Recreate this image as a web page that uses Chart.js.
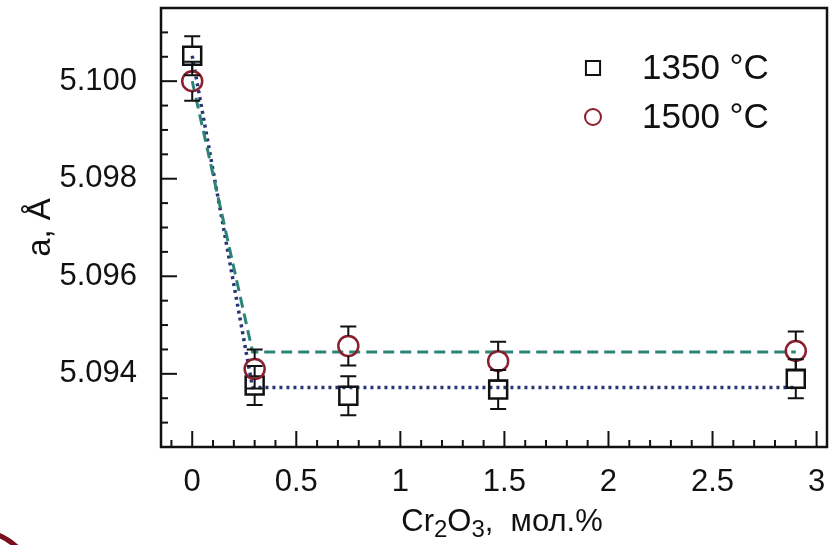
<!DOCTYPE html>
<html>
<head>
<meta charset="utf-8">
<script src="https://cdn.jsdelivr.net/npm/chart.js@4.4.0/dist/chart.umd.min.js"></script>
<style>
  html, body { margin: 0; padding: 0; background: #fff; }
  #wrap { width: 836px; height: 545px; }
</style>
</head>
<body>
<div id="wrap"><canvas id="latticeChart"></canvas></div>
<script>
// Cr2O3 content, mol.%
const cr2o3 = [0, 0.3, 0.75, 1.47, 2.9];
// lattice parameter a, Angstrom
const a1350 = [5.10052, 5.09376, 5.09355, 5.09368, 5.0939];
const a1500 = [5.1000, 5.0941, 5.09457, 5.09426, 5.09447];
const err1350 = [0.0004, 0.0004, 0.0004, 0.0004, 0.0004];
const err1500 = [0.0004, 0.0004, 0.0004, 0.0004, 0.0004];
// guide lines
const fitX = [0, 0.29, 2.9];
const fit1350 = [5.10052, 5.09372, 5.09372];
const fit1500 = [5.1000, 5.09445, 5.09445];
// axis ticks
const xTicks = [0, 0.5, 1, 1.5, 2, 2.5, 3];
const yTicks = [5.094, 5.096, 5.098, 5.100];
const seriesLabels = ['1350 °C', '1500 °C'];

const FONT = 'Liberation Sans, Arial, Helvetica, sans-serif';
const pts = (xs, ys) => xs.map((x, i) => ({ x: x, y: ys[i] }));

// inward tick marks + full frame
const framePlugin = {
    id: 'frame',
    afterDraw(chart) {
        const { ctx, chartArea: a, scales: { x, y } } = chart;
        ctx.save();
        ctx.strokeStyle = '#111';
        ctx.lineWidth = 2;
        for (let i = -1; i <= 30; i++) {
            const px = x.getPixelForValue(i / 10);
            const len = (i % 5 === 0) ? 16 : 7;
            ctx.beginPath();
            ctx.moveTo(px, a.bottom);
            ctx.lineTo(px, a.bottom - len);
            ctx.stroke();
        }
        for (let i = 0; i <= 16; i++) {
            const py = y.getPixelForValue(5.093 + i * 0.0005);
            const len = (i % 4 === 2) ? 16 : 7;
            ctx.beginPath();
            ctx.moveTo(a.left, py);
            ctx.lineTo(a.left + len, py);
            ctx.stroke();
        }
        ctx.lineWidth = 2.5;
        ctx.strokeRect(a.left, a.top, a.right - a.left, a.bottom - a.top);

        // bit of slide decoration in the corner
        ctx.strokeStyle = '#7a0f1c';
        ctx.lineWidth = 5;
        ctx.beginPath();
        ctx.moveTo(-2, 535);
        ctx.quadraticCurveTo(8, 539, 18, 548);
        ctx.stroke();
        ctx.restore();
    }
};

// error bars, drawn from marker edge to cap
const errorBarPlugin = {
    id: 'errorBars',
    afterDatasetsDraw(chart) {
        const { ctx, scales: { x, y } } = chart;
        const sets = [[a1350, err1350, 9], [a1500, err1500, 10]];
        ctx.save();
        ctx.strokeStyle = '#111';
        ctx.lineWidth = 2;
        sets.forEach(([vals, errs, half]) => {
            cr2o3.forEach((cx, i) => {
                const px = x.getPixelForValue(cx);
                const pc = y.getPixelForValue(vals[i]);
                const pt = y.getPixelForValue(vals[i] + errs[i]);
                const pb = y.getPixelForValue(vals[i] - errs[i]);
                ctx.beginPath();
                ctx.moveTo(px, pc - half); ctx.lineTo(px, pt);
                ctx.moveTo(px, pc + half); ctx.lineTo(px, pb);
                ctx.moveTo(px - 8, pt); ctx.lineTo(px + 8, pt);
                ctx.moveTo(px - 8, pb); ctx.lineTo(px + 8, pb);
                ctx.stroke();
            });
        });
        ctx.restore();
    }
};

// legend inside the plot and the x title with subscripts
const textPlugin = {
    id: 'texts',
    afterDraw(chart) {
        const { ctx } = chart;
        ctx.save();
        ctx.textBaseline = 'middle';
        const rows = [[68, 0, 10], [117, 1, 8]];
        rows.forEach(([py, di, r]) => {
            const ds = chart.data.datasets[di];
            ctx.fillStyle = 'rgba(0,0,0,0)';
            ctx.strokeStyle = ds.borderColor;
            ctx.lineWidth = 2;
            Chart.helpers.drawPoint(ctx, { pointStyle: ds.pointStyle, radius: r, borderWidth: 2 }, 593, py);
            ctx.fillStyle = '#111';
            ctx.font = '35px ' + FONT;
            ctx.fillText(seriesLabels[di], 642, py + 1);
        });

        // x title: Cr2O3, мол.%
        const parts = [['Cr', 31, 0], ['2', 24, 6], ['O', 31, 0], ['3', 24, 6], [',  мол.%', 31, 0]];
        let w = 0;
        parts.forEach(([t, s]) => { ctx.font = s + 'px ' + FONT; w += ctx.measureText(t).width; });
        let px = 502 - w / 2;
        ctx.textBaseline = 'alphabetic';
        parts.forEach(([t, s, dy]) => {
            ctx.font = s + 'px ' + FONT;
            ctx.fillText(t, px, 531 + dy);
            px += ctx.measureText(t).width;
        });
        ctx.restore();
    }
};

new Chart(document.getElementById('latticeChart'), {
    type: 'scatter',
    data: {
        datasets: [
            {
                label: seriesLabels[0],
                data: pts(cr2o3, a1350),
                pointStyle: 'rect',
                pointRadius: 12.7,
                borderColor: '#111',
                backgroundColor: 'rgba(0,0,0,0)',
                borderWidth: 2.5,
                order: 1
            },
            {
                label: seriesLabels[1],
                data: pts(cr2o3, a1500),
                pointStyle: 'circle',
                pointRadius: 10,
                borderColor: '#8c1f2e',
                backgroundColor: 'rgba(0,0,0,0)',
                borderWidth: 2.5,
                order: 0
            },
            {
                label: 'fit 1350',
                data: pts(fitX, fit1350),
                showLine: true,
                pointRadius: 0,
                borderColor: '#283574',
                borderWidth: 3.5,
                borderDash: [3, 4],
                order: 3
            },
            {
                label: 'fit 1500',
                data: pts(fitX, fit1500),
                showLine: true,
                pointRadius: 0,
                borderColor: '#2a8577',
                borderWidth: 3,
                borderDash: [11, 6],
                order: 2
            }
        ]
    },
    options: {
        responsive: true,
        maintainAspectRatio: false,
        animation: false,
        layout: { autoPadding: false, padding: { top: 8, right: 9, left: 0, bottom: 0 } },
        plugins: {
            legend: { display: false },
            tooltip: { enabled: false }
        },
        scales: {
            x: {
                type: 'linear',
                min: -0.15,
                max: 3.05,
                afterBuildTicks: s => { s.ticks = xTicks.map(v => ({ value: v })); },
                afterFit: s => { s.height = 98; s.paddingLeft = 0; s.paddingRight = 0; },
                grid: { display: false },
                border: { display: false },
                ticks: {
                    color: '#111',
                    font: { family: FONT, size: 31 },
                    padding: 9,
                    maxRotation: 0,
                    callback: v => String(v)
                }
            },
            y: {
                min: 5.0925,
                max: 5.1015,
                afterBuildTicks: s => { s.ticks = yTicks.map(v => ({ value: v })); },
                afterFit: s => { s.width = 161; s.paddingTop = 0; s.paddingBottom = 0; },
                grid: { display: false },
                border: { display: false },
                title: {
                    display: true,
                    text: 'a, Å',
                    color: '#111',
                    font: { family: FONT, size: 33 },
                    padding: { top: 21, bottom: 0 }
                },
                ticks: {
                    color: '#111',
                    font: { family: FONT, size: 31 },
                    padding: 16,
                    callback: v => v.toFixed(3)
                }
            }
        }
    },
    plugins: [framePlugin, errorBarPlugin, textPlugin]
});
</script>
</body>
</html>
